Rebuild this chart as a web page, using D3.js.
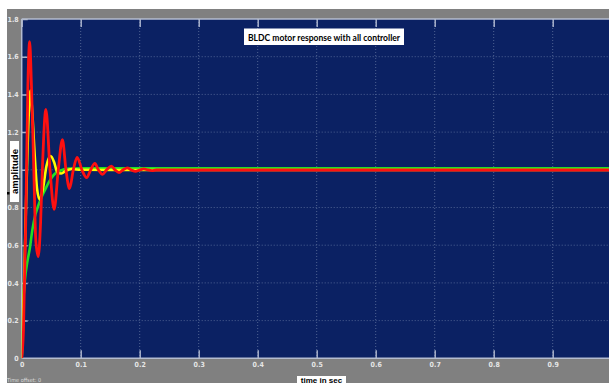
<!DOCTYPE html>
<html><head><meta charset="utf-8">
<script src="https://cdn.jsdelivr.net/npm/d3@7"></script>
<style>body{margin:0;background:#fff}svg{display:block}</style>
</head><body>
<script>
// ---- data ----
const xTicks = [0,0.1,0.2,0.3,0.4,0.5,0.6,0.7,0.8,0.9];
const xTickLabels = ["0","0.1","0.2","0.3","0.4","0.5","0.6","0.7","0.8","0.9"];
const yTicks = [0,0.2,0.4,0.6,0.8,1.0,1.2,1.4,1.6,1.8];
const yTickLabels = ["0","0.2","0.4","0.6","0.8","1","1.2","1.4","1.6","1.8"];

const greenT = [0,0.002,0.005,0.010,0.0136,0.018,0.023,0.027,0.033,0.039,0.047,0.055,0.065,0.08,0.1,1.05];
const greenV = [0,0.25,0.40,0.52,0.58,0.68,0.76,0.80,0.85,0.89,0.94,0.975,0.995,1.006,1.008,1.008];

const yellowT = [0,0.004,0.008,0.012,0.0147,0.018,0.022,0.026,0.0305,0.036,0.042,0.049,0.055,0.060,0.067,0.075,0.085,0.1,0.2,1.05];
const yellowV = [0,0.40,0.90,1.30,1.42,1.30,1.08,0.90,0.843,0.90,1.02,1.073,1.04,0.99,0.98,0.995,1.004,1.0,0.999,0.999];

const redT = [0,0.003,0.007,0.0105,0.0135,0.0165,0.0205,0.024,0.028,0.032,0.035,0.041,0.048,0.055,0.062,0.069,0.075,0.081,0.0875,0.094,0.102,0.110,0.117,0.124,0.130,0.137,0.144,0.152,0.158,0.165,0.172,0.179,0.186,0.193,0.200,0.207,0.214,0.221,0.228,0.24,1.05];
const redV = [0,0.15,0.75,1.45,1.68,1.45,1.0,0.62,0.54,0.72,1.0,1.32,1.0,0.79,1.0,1.16,1.0,0.90,1.0,1.066,1.0,0.958,1.0,1.034,1.0,0.976,1.0,1.02,1.0,0.985,1.0,1.01,0.999,0.992,0.999,1.005,0.999,0.996,0.999,0.999,0.999];

const titleText = "BLDC motor response with all controller";
const yLabel = "amplitude";
const xLabel = "time in sec";
const offsetText = "Time offset:  0";

// ---- layout ----
const W = 609, H = 383;
const L = 21.7, T = 19, B = 358.3, R = 611.7;
const svg = d3.select("body").append("svg").attr("width", W).attr("height", H);

svg.append("rect").attr("x",7).attr("y",9).attr("width",W-7).attr("height",H-9).attr("fill","#808080");

const x = d3.scaleLinear().domain([0,1]).range([L,R]);
const y = d3.scaleLinear().domain([0,1.8]).range([B,T]);

svg.append("defs").append("clipPath").attr("id","clip")
  .append("rect").attr("x",L).attr("y",T).attr("width",R-L).attr("height",B-T);

svg.append("rect").attr("x",L).attr("y",T).attr("width",R-L).attr("height",B-T).attr("fill","#0b2163");

// grid
const grid = svg.append("g").attr("clip-path","url(#clip)");
grid.selectAll(".vg").data(xTicks.slice(1)).join("line")
  .attr("x1",d=>x(d)).attr("x2",d=>x(d)).attr("y1",T).attr("y2",B)
  .attr("stroke","#4f6393").attr("stroke-width",1).attr("stroke-dasharray","1,2");
grid.selectAll(".hg").data(yTicks.slice(1,-1)).join("line")
  .attr("x1",L).attr("x2",R).attr("y1",d=>y(d)).attr("y2",d=>y(d))
  .attr("stroke","#4f6393").attr("stroke-width",1).attr("stroke-dasharray","1,2");

// inner tick marks
const tickC = "#a9b3cc";
grid.append("g").attr("transform",`translate(0,${B})`)
  .call(d3.axisTop(x).tickValues(xTicks).tickSize(8).tickFormat(""))
  .call(g=>{g.select(".domain").remove(); g.selectAll("line").attr("stroke",tickC).attr("stroke-width",1.5);});
grid.append("g").attr("transform",`translate(0,${T})`)
  .call(d3.axisBottom(x).tickValues(xTicks).tickSize(8).tickFormat(""))
  .call(g=>{g.select(".domain").remove(); g.selectAll("line").attr("stroke",tickC).attr("stroke-width",1.5);});
grid.append("g").attr("transform",`translate(${L},0)`)
  .call(d3.axisRight(y).tickValues(yTicks).tickSize(6).tickFormat(""))
  .call(g=>{g.select(".domain").remove(); g.selectAll("line").attr("stroke",tickC).attr("stroke-width",1.5);});

// border
svg.append("line").attr("x1",L).attr("x2",W).attr("y1",T).attr("y2",T).attr("stroke","#b4bccf").attr("stroke-width",1.5);
svg.append("line").attr("x1",L).attr("x2",W).attr("y1",B).attr("y2",B).attr("stroke","#b4bccf").attr("stroke-width",1.5);
svg.append("line").attr("x1",L).attr("x2",L).attr("y1",T).attr("y2",B).attr("stroke","#b4bccf").attr("stroke-width",1.5);

// axis labels
const xa = svg.append("g").attr("transform",`translate(0,${B})`)
  .call(d3.axisBottom(x).tickValues(xTicks).tickSize(0).tickPadding(4).tickFormat((d,i)=>xTickLabels[i]));
xa.select(".domain").remove();
xa.selectAll("text").attr("fill","#e6e6e6").attr("font-size","7px").attr("font-weight","bold")
  .attr("font-family","'Liberation Sans Narrow','DejaVu Sans Condensed',sans-serif");
const ya = svg.append("g").attr("transform",`translate(${L},0)`)
  .call(d3.axisLeft(y).tickValues(yTicks).tickSize(0).tickPadding(3).tickFormat((d,i)=>yTickLabels[i]));
ya.select(".domain").remove();
ya.selectAll("text").attr("fill","#e6e6e6").attr("font-size","7px").attr("font-weight","bold")
  .attr("font-family","'Liberation Sans Narrow','DejaVu Sans Condensed',sans-serif");

// lines
const series = [
  {t:greenT, v:greenV, c:"#22e022", w:2.6},
  {t:yellowT, v:yellowV, c:"#ffff00", w:2.6},
  {t:redT, v:redV, c:"#ff1010", w:2.8}
];
const line = d3.line().x(d=>x(d[0])).y(d=>y(d[1])).curve(d3.curveMonotoneX);
const lg = svg.append("g").attr("clip-path","url(#clip)");
series.forEach(s=>{
  lg.append("path").datum(s.t.map((t,i)=>[t,s.v[i]]))
    .attr("d",line).attr("fill","none").attr("stroke",s.c).attr("stroke-width",s.w);
});

// title
svg.append("rect").attr("x",244).attr("y",28.5).attr("width",160).attr("height",16.5).attr("fill","#fff");
svg.append("text").attr("x",324).attr("y",40.5).attr("text-anchor","middle")
  .attr("font-family","Lato,'Open Sans',sans-serif").attr("font-size","8.8px").attr("font-weight","bold")
  .attr("textLength",152).attr("lengthAdjust","spacingAndGlyphs")
  .attr("fill","#000").text(titleText);

// y label
svg.append("rect").attr("x",10).attr("y",141).attr("width",9).attr("height",61).attr("fill","#fff");
svg.append("text").attr("transform","translate(17.5,171.5) rotate(-90)").attr("text-anchor","middle")
  .attr("font-family","'Liberation Sans',Arial,sans-serif").attr("font-size","9.5px").attr("font-weight","bold")
  .attr("fill","#000").text(yLabel);
svg.append("rect").attr("x",7).attr("y",192).attr("width",2.5).attr("height",2.5).attr("fill","#000");

// x label
svg.append("rect").attr("x",297).attr("y",376).attr("width",49).attr("height",10).attr("fill","#fff");
svg.append("text").attr("x",321.5).attr("y",382.5).attr("text-anchor","middle")
  .attr("font-family","'Liberation Sans',Arial,sans-serif").attr("font-size","8px").attr("font-weight","bold")
  .attr("fill","#000").text(xLabel);

// offset
svg.append("text").attr("x",7).attr("y",382).attr("font-family","'Liberation Sans Narrow','DejaVu Sans Condensed',sans-serif")
  .attr("font-size","5.5px").attr("fill","#dcdcdc").text(offsetText);
</script>
</body></html>
